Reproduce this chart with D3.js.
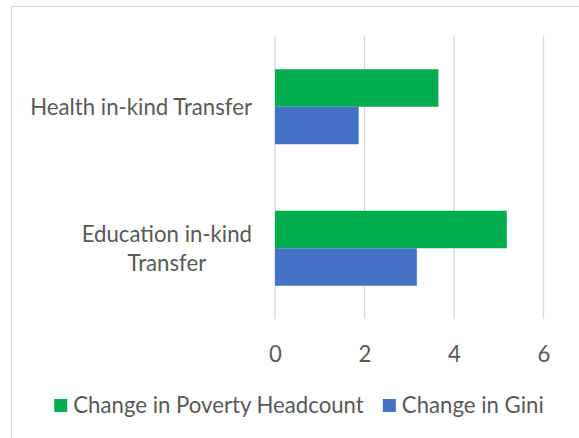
<!DOCTYPE html>
<html>
<head>
<meta charset="utf-8">
<script src="https://cdn.jsdelivr.net/npm/d3@7"></script>
<style>
  html, body { margin: 0; padding: 0; background: #fff; }
  svg { display: block; }
  text { font-family: "Lato", "Open Sans", sans-serif; fill: #595959; }
</style>
</head>
<body>
<svg id="chart" width="579" height="438"></svg>
<script>
// Transfer types (top to bottom)
const categories = ["Health in-kind Transfer", "Education in-kind Transfer"];
// Series names and values per category
const seriesNames = ["Change in Poverty Headcount", "Change in Gini"];
const povertyHeadcount = [3.65, 5.18];
const gini = [1.87, 3.17];
const xTicks = [0, 2, 4, 6];

const colors = ["#00ad4e", "#4472c4"];
const seriesValues = [povertyHeadcount, gini];
const fontSize = 22.2;

const svg = d3.select("#chart");

// chart area frame
svg.append("rect")
  .attr("x", 11.5).attr("y", 6.5)
  .attr("width", 580).attr("height", 440)
  .attr("fill", "#fff").attr("stroke", "#d9d9d9").attr("stroke-width", 1.2);

const plot = { left: 275, right: 543.5, top: 36, bottom: 319 };

const x = d3.scaleLinear().domain([0, 6]).range([plot.left, plot.right]);
const y = d3.scaleBand().domain(categories)
  .range([plot.top, plot.bottom]).paddingInner(0.47).paddingOuter(0.235);
const ySub = d3.scaleBand().domain(d3.range(seriesNames.length))
  .range([0, y.bandwidth()]);

// vertical gridlines
svg.append("g").selectAll("line").data(xTicks).join("line")
  .attr("x1", d => x(d)).attr("x2", d => x(d))
  .attr("y1", plot.top).attr("y2", plot.bottom)
  .attr("stroke", "#d9d9d9").attr("stroke-width", 1.3);

// bars
const groups = svg.append("g").selectAll("g").data(categories).join("g")
  .attr("transform", c => `translate(0,${y(c)})`);
groups.selectAll("rect")
  .data((c, i) => seriesValues.map((vals, s) => ({ s, v: vals[i] })))
  .join("rect")
  .attr("x", x(0))
  .attr("y", d => ySub(d.s))
  .attr("width", d => x(d.v) - x(0))
  .attr("height", ySub.bandwidth())
  .attr("fill", d => colors[d.s]);

// x axis tick labels
const xAxis = d3.axisBottom(x).tickValues(xTicks).tickFormat(d3.format("d"))
  .tickSize(0).tickPadding(0);
const gx = svg.append("g").attr("transform", `translate(0,${plot.bottom + 35})`).call(xAxis);
gx.select(".domain").remove();
gx.selectAll("text").attr("font-size", fontSize).attr("dy", "0.35em")
  .style("fill", "#595959").attr("font-family", "Lato, 'Open Sans', sans-serif");

// category labels, wrapped and centred like a word-wrapped label box
const labelRight = 252;
const wrap = { "Health in-kind Transfer": ["Health in-kind Transfer"],
               "Education in-kind Transfer": ["Education in-kind", "Transfer"] };
categories.forEach(c => {
  const lines = wrap[c];
  const g = svg.append("g");
  const texts = lines.map(l => g.append("text").attr("font-size", fontSize).text(l));
  const w = d3.max(texts, t => t.node().getComputedTextLength());
  const cx = labelRight - w / 2;
  const cy = y(c) + y.bandwidth() / 2;
  const lh = 29;
  texts.forEach((t, i) => {
    t.attr("x", cx).attr("text-anchor", "middle")
     .attr("y", cy + (i - (lines.length - 1) / 2) * lh)
     .attr("dy", "0.35em");
  });
});

// legend
const legend = svg.append("g").attr("transform", "translate(0,405)");
const items = legend.selectAll("g").data(seriesNames).join("g");
items.append("rect").attr("width", 13).attr("height", 13).attr("y", -6)
  .attr("fill", (d, i) => colors[i]);
items.append("text").attr("x", 19).attr("dy", "0.35em").attr("font-size", fontSize).text(d => d);
const widths = [];
items.each(function () { widths.push(this.getBBox().width); });
const gap = 19;
const total = d3.sum(widths) + gap * (widths.length - 1);
let pos = 299 - total / 2;
items.attr("transform", (d, i) => {
  const t = `translate(${pos},0)`;
  pos += widths[i] + gap;
  return t;
});
</script>
</body>
</html>
